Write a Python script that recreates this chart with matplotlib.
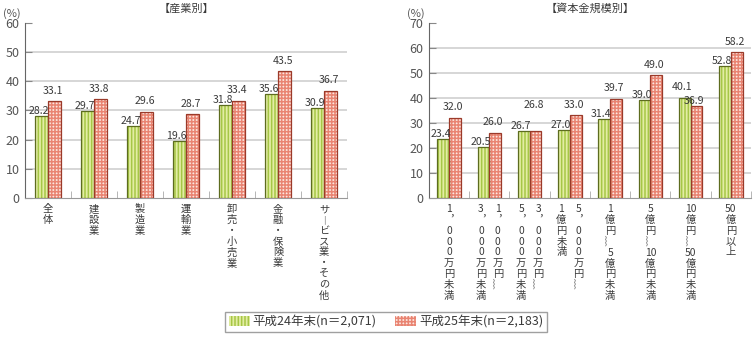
import re
import numpy as np
import matplotlib
matplotlib.use("Agg")
import matplotlib.pyplot as plt
from matplotlib.patches import Patch
from matplotlib.transforms import blended_transform_factory

plt.rcParams['font.family'] = ['Noto Sans CJK JP', 'DejaVu Sans']
plt.rcParams['hatch.linewidth'] = 1.1

ind_cats = ['全体', '建設業', '製造業', '運輸業', '卸売・小売業', '金融・保険業', 'サービス業・その他']
ind_h24 = [28.2, 29.7, 24.7, 19.6, 31.8, 35.6, 30.9]
ind_h25 = [33.1, 33.8, 29.6, 28.7, 33.4, 43.5, 36.7]

# '|' splits columns, first column is the right one (vertical writing)
cap_cats = ['1,000万円未満', '1,000万円~|3,000万円未満', '3,000万円~|5,000万円未満',
            '5,000万円~|1億円未満', '1億円~5億円未満', '5億円~10億円未満',
            '10億円~50億円未満', '50億円以上']
cap_h24 = [23.4, 20.5, 26.7, 27.0, 31.4, 39.0, 40.1, 52.8]
cap_h25 = [32.0, 26.0, 26.8, 33.0, 39.7, 49.0, 36.9, 58.2]

series = ['平成24年末(n＝2,071)', '平成25年末(n＝2,183)']

g_face, g_hatch, g_edge = '#e3eda4', '#a6c646', '#5d6c1f'
r_face, r_hatch, r_edge = '#fce6df', '#e98472', '#9a3a2a'
txt = '#3a3a3a'
grid_c = '#cfcfcf'

vmap = {',': '︐', '~': '︴', 'ー': '︱'}


def vert(s):
    toks = re.findall(r'\d\d(?=億)|.', s)
    return '\n'.join(vmap.get(t, t) for t in toks)


def draw_panel(ax, cats, v1, v2, ymax, title, w):
    n = len(cats)
    x = np.arange(n)
    for k, (xs, vals, fc, hc, ec, h) in enumerate(
            [(x - w / 2, v1, g_face, g_hatch, g_edge, '|||||'),
             (x + w / 2, v2, r_face, r_hatch, r_edge, '+++++')]):
        ax.bar(xs, vals, w, color=fc, edgecolor=hc, hatch=h, linewidth=0, zorder=3)
        ax.bar(xs, vals, w, fill=False, edgecolor=ec, linewidth=0.9, zorder=4)
        for i, (xi, v) in enumerate(zip(xs, vals)):
            other = v2[i] if k == 0 else v1[i]
            dy = 4 if v > other else 0
            if k == 1 and abs(v1[i] - v2[i]) < 1.0:
                dy = 15
            ax.annotate(f'{v:.1f}', (xi, v), xytext=(-2 if k == 0 else -1.5, dy),
                        textcoords='offset points', ha='center', va='bottom',
                        fontsize=7.6, color=txt, zorder=5)
    for g in range(10, ymax, 10):
        ax.axhline(g, color=grid_c, linewidth=1.2, zorder=1)
    ax.set_xlim(-0.5, n - 0.5)
    ax.set_ylim(0, ymax)
    ax.set_yticks(range(0, ymax + 1, 10))
    ax.tick_params(axis='y', direction='in', length=5, color='#888888',
                   labelsize=9, labelcolor='#555555', pad=4)
    ax.set_xticks([])
    ax.set_xticks(np.arange(n + 1) - 0.5, minor=True)
    ax.tick_params(axis='x', which='minor', direction='in', length=5, color='#aaaaaa')
    for s in ['top', 'right']:
        ax.spines[s].set_visible(False)
    ax.spines['left'].set_color('#666666')
    ax.spines['bottom'].set_color('#999999')
    ax.set_title(title, fontsize=8, color=txt, pad=8)
    ax.text(-0.04, 1.02, '(%)', transform=ax.transAxes, ha='center', va='bottom',
            fontsize=8, color='#555555')
    tr = blended_transform_factory(ax.transData, ax.transAxes)
    for i, c in enumerate(cats):
        cols = c.split('|')
        offs = [0.0] if len(cols) == 1 else [0.21, -0.21]
        for col, o in zip(cols, offs):
            ax.text(i + o, -0.035, vert(col), transform=tr, ha='center', va='top',
                    fontsize=7.4, color=txt, linespacing=1.1)


fig = plt.figure(figsize=(7.55, 3.37), dpi=100)
ax1 = fig.add_axes([0.0331, 0.4125, 0.4265, 0.5193])
ax2 = fig.add_axes([0.5682, 0.4125, 0.4265, 0.5193])

draw_panel(ax1, ind_cats, ind_h24, ind_h25, 60, '【産業別】', 0.29)
draw_panel(ax2, cap_cats, cap_h24, cap_h25, 70, '【資本金規模別】', 0.29)

handles = [Patch(facecolor=g_face, edgecolor=g_hatch, hatch='|||||', linewidth=0),
           Patch(facecolor=r_face, edgecolor=r_hatch, hatch='+++++', linewidth=0)]
fig.legend(handles, series, loc='center', bbox_to_anchor=(0.511, 0.045), ncol=2,
           fontsize=9, frameon=True, fancybox=False, edgecolor='#888888',
           handlelength=1.7, handleheight=0.8, handletextpad=0.2,
           columnspacing=1.5, borderpad=0.3, labelcolor=txt)

fig.savefig('out.png', dpi=100)
